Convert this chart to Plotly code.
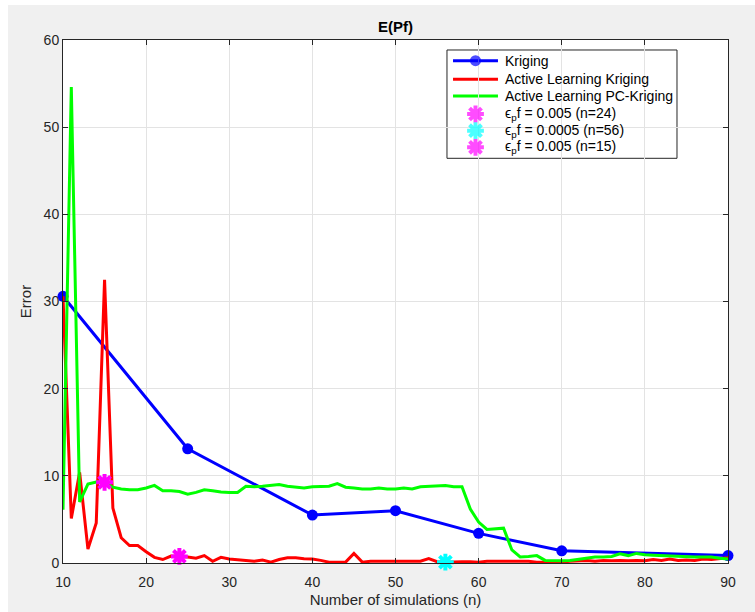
import plotly.graph_objects as go

# Kriging
krig_n = [10, 25, 40, 50, 60, 70, 90]
krig_err = [30.6, 13.1, 5.5, 6.0, 3.4, 1.4, 0.85]

# Active Learning Kriging (n = 10..90)
alk_n = list(range(10, 91))
alk_err = [30.6, 5.1, 10.4, 1.6, 4.6, 32.5, 6.3, 2.9, 2.0, 2.0,
           1.3, 0.65, 0.4, 0.8, 0.75, 0.7, 0.55, 0.85, 0.2, 0.65,
           0.45, 0.4, 0.3, 0.2, 0.35, 0.1, 0.4, 0.6, 0.6, 0.5,
           0.45, 0.3, 0.1, 0.1, 0.1, 1.1, 0.1, 0.2, 0.2, 0.15,
           0.2, 0.15, 0.2, 0.2, 0.5, 0.15, 0.1, 0.15, 0.15, 0.15,
           0.1, 0.2, 0.2, 0.15, 0.2, 0.2, 0.2, 0.1, 0.1, 0.1,
           0.1, 0.2, 0.25, 0.3, 0.2, 0.3, 0.25, 0.3, 0.25, 0.3,
           0.25, 0.4, 0.3, 0.45, 0.3, 0.35, 0.3, 0.45, 0.4, 0.5,
           0.6]

# Active Learning PC-Kriging (n = 10..90)
alpck_n = list(range(10, 91))
alpck_err = [6.1, 54.6, 7.0, 9.05, 9.3, 9.3, 8.7, 8.5, 8.4, 8.4,
             8.6, 8.9, 8.3, 8.3, 8.2, 7.9, 8.1, 8.4, 8.3, 8.15,
             8.1, 8.1, 8.8, 8.75, 8.8, 8.9, 9.0, 8.8, 8.7, 8.6,
             8.75, 8.75, 8.8, 9.1, 8.7, 8.6, 8.5, 8.5, 8.6, 8.5,
             8.5, 8.6, 8.5, 8.75, 8.8, 8.9, 8.9, 8.75, 8.75, 6.2,
             4.7, 3.85, 3.95, 4.0, 1.5, 0.7, 0.75, 0.85, 0.3, 0.25,
             0.25, 0.3, 0.45, 0.55, 0.7, 0.7, 0.75, 1.05, 0.85, 1.1,
             0.95, 0.9, 0.85, 0.8, 0.75, 0.7, 0.7, 0.7, 0.7, 0.55,
             0.45]

# Threshold markers
mark_labels = ["ϵ<sub>p</sub>f = 0.005 (n=24)", "ϵ<sub>p</sub>f = 0.0005 (n=56)", "ϵ<sub>p</sub>f = 0.005 (n=15)"]
mark_n = [24, 56, 15]
mark_err = [0.75, 0.1, 9.25]
mark_colors = ["#ff00ff", "#00ffff", "#ff00ff"]

series_labels = ["Kriging", "Active Learning Kriging", "Active Learning PC-Kriging"]
series_colors = ["#0000ff", "#ff0000", "#00ff00"]

x_ticks = [10, 20, 30, 40, 50, 60, 70, 80, 90]
y_ticks = [0, 10, 20, 30, 40, 50, 60]

STAR = dict(symbol="asterisk-open", size=14)

fig = go.Figure()
fig.add_trace(go.Scatter(x=krig_n, y=krig_err, mode="lines+markers", name=series_labels[0],
                         line=dict(color=series_colors[0], width=3), cliponaxis=False,
                         marker=dict(color=series_colors[0], size=11, symbol="circle")))
fig.add_trace(go.Scatter(x=alk_n, y=alk_err, mode="lines", name=series_labels[1],
                         line=dict(color=series_colors[1], width=3)))
fig.add_trace(go.Scatter(x=alpck_n, y=alpck_err, mode="lines", name=series_labels[2],
                         line=dict(color=series_colors[2], width=3)))
for lab, xn, ye, c in zip(mark_labels, mark_n, mark_err, mark_colors):
    fig.add_trace(go.Scatter(x=[xn], y=[ye], mode="markers", name=lab, cliponaxis=False,
                             marker=dict(color=c, line=dict(color=c, width=4), **STAR)))

# ---- hand-drawn legend (MATLAB style box) ----
leg_x0, leg_x1, leg_y0, leg_y1 = 0.5774, 0.9233, 0.7738, 0.9809
samp_x0, samp_x1, samp_xc, text_x = 0.5865, 0.6541, 0.6203, 0.6617
row_y = [0.9604, 0.9249, 0.8929, 0.8585, 0.8266, 0.7948]

fig.add_shape(type="rect", xref="paper", yref="paper", x0=leg_x0, x1=leg_x1, y0=leg_y0, y1=leg_y1,
              line=dict(color="#262626", width=1), fillcolor="#ffffff", layer="between")
for i, (lab, c) in enumerate(zip(series_labels, series_colors)):
    fig.add_shape(type="line", xref="paper", yref="paper", x0=samp_x0, x1=samp_x1,
                  y0=row_y[i], y1=row_y[i], line=dict(color=c, width=3), layer="between")
    fig.add_annotation(x=text_x, y=row_y[i], xref="paper", yref="paper", text=lab,
                       showarrow=False, xanchor="left", yanchor="middle",
                       font=dict(size=14, color="#000000"))
for j, (lab, c) in enumerate(zip(mark_labels, mark_colors)):
    fig.add_annotation(x=text_x, y=row_y[3 + j], xref="paper", yref="paper", text=lab,
                       showarrow=False, xanchor="left", yanchor="middle",
                       font=dict(size=14, color="#000000"))

leg_mx = [samp_xc] * 4
leg_my = [row_y[0], row_y[3], row_y[4], row_y[5]]
leg_sym = ["circle"] + ["asterisk-open"] * 3
leg_sz = [11, 14, 14, 14]
leg_cols = [series_colors[0]] + mark_colors
fig.add_trace(go.Scatter(x=leg_mx, y=leg_my, xaxis="x2", yaxis="y2", mode="markers",
                         cliponaxis=False, hoverinfo="skip",
                         marker=dict(symbol=leg_sym, size=leg_sz, color=leg_cols,
                                     line=dict(color=leg_cols, width=[0, 4, 4, 4]))))

axis_common = dict(showline=True, linecolor="#262626", linewidth=1, mirror="ticks",
                   ticks="inside", ticklen=5, tickcolor="#262626", automargin=False,
                   showgrid=True, gridcolor="#e3e3e3", gridwidth=1, zeroline=False,
                   tickfont=dict(size=14, color="#262626"))

fig.update_layout(
    width=747, height=607,
    paper_bgcolor="#f0f0f0", plot_bgcolor="#ffffff",
    margin=dict(l=55, r=27, t=35, b=49, autoexpand=False),
    font=dict(family="Liberation Sans, Arial, sans-serif", color="#262626"),
    title=dict(text="<b>E(Pf)</b>", x=0.5, xref="paper", y=0.9638, yanchor="middle",
               font=dict(size=15, color="#000000")),
    xaxis=dict(range=[10, 90], tickvals=x_ticks, ticklabelstandoff=6,
               title=dict(text="Number of simulations (n)", font=dict(size=15), standoff=5),
               **axis_common),
    yaxis=dict(range=[0, 60], tickvals=y_ticks,
               title=dict(text="Error", font=dict(size=15), standoff=8),
               **axis_common),
    xaxis2=dict(overlaying="x", range=[0, 1], visible=False, fixedrange=True),
    yaxis2=dict(overlaying="y", range=[0, 1], visible=False, fixedrange=True),
    showlegend=False,
)

fig.write_html("out.html", config={"displayModeBar": False},
               post_script="document.body.style.margin='5px 0 0 8px';document.body.style.padding='0';"
                           "document.body.style.background='#ffffff';")
